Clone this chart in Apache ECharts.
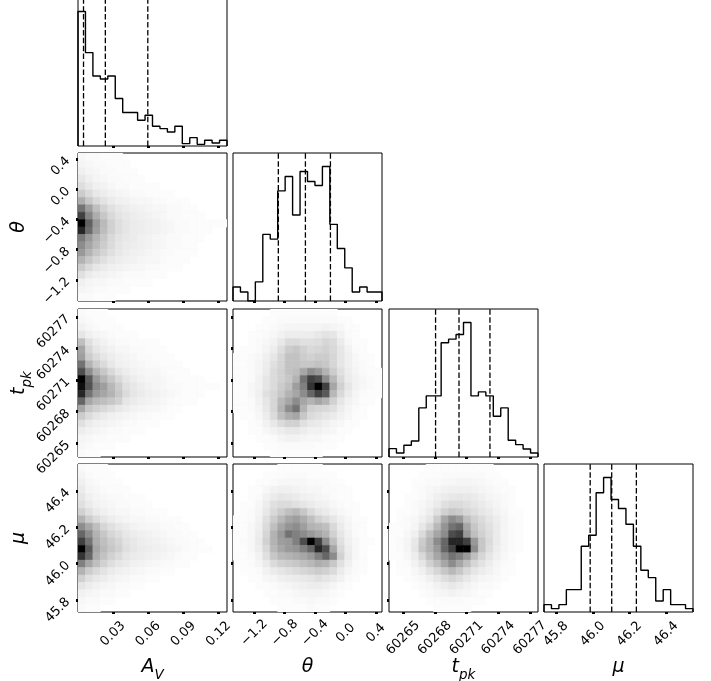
<!DOCTYPE html>
<html><head><meta charset="utf-8">
<script src="https://cdn.jsdelivr.net/npm/echarts@6/dist/echarts.min.js"></script>
<style>html,body{margin:0;padding:0;background:#fff}#c{width:711px;height:681px}</style>
</head><body><div id="c"></div>
<script>
// ---------- data ----------
const avRange = [0.0002, 0.1272];
const thetaRange = [-1.48, 0.479];
const tpkRange = [60263.66, 60277.77];
const muRange = [45.734, 46.547];

const avTicks = [0.03, 0.06, 0.09, 0.12];
const avTickLabels = ['0.03', '0.06', '0.09', '0.12'];
const thetaTicks = [-1.2, -0.8, -0.4, 0.0, 0.4];
const thetaTickLabels = ['\u22121.2', '\u22120.8', '\u22120.4', '0.0', '0.4'];
const tpkTicks = [60265, 60268, 60271, 60274, 60277];
const tpkTickLabels = ['60265', '60268', '60271', '60274', '60277'];
const muTicks = [45.8, 46.0, 46.2, 46.4];
const muTickLabels = ['45.8', '46.0', '46.2', '46.4'];

const avHist = [402, 279, 209, 200, 209, 142, 100, 100, 77, 92, 59, 52, 42, 59, 7, 25, 5, 17, 9, 17];
const thetaHist = [42, 27, 0, 57, 199, 185, 329, 372, 257, 387, 357, 345, 402, 229, 157, 99, 27, 42, 27, 27];
const tpkHist = [25, 12, 35, 48, 147, 183, 183, 342, 353, 367, 403, 183, 195, 183, 122, 147, 50, 37, 24, 12];
const muHist = [22, 10, 22, 67, 67, 197, 230, 357, 403, 337, 310, 263, 197, 125, 103, 33, 67, 22, 22, 10];

const avQuantiles = [0.0049, 0.0235, 0.0597];
const thetaQuantiles = [-0.884, -0.528, -0.199];
const tpkQuantiles = [60268.07, 60270.29, 60273.22];
const muQuantiles = [45.986, 46.1035, 46.238];

// 2D densities (percent of panel maximum); rows from top (high y) to bottom, columns left to right
const densAvTheta = [
 [3,2,2,1,1,1,0,0,0,0,0,0,0,0,0,0,0,0,0,0],
 [4,3,2,2,1,1,1,0,0,0,0,0,0,0,0,0,0,0,0,0],
 [6,4,3,2,2,1,1,1,0,0,0,0,0,0,0,0,0,0,0,0],
 [9,6,4,3,2,2,1,1,1,0,0,0,0,0,0,0,0,0,0,0],
 [13,9,6,5,3,2,2,1,1,1,1,0,0,0,0,0,0,0,0,0],
 [20,14,9,7,5,4,3,2,2,1,1,1,1,0,0,0,0,0,0,0],
 [32,22,15,11,8,6,5,4,3,3,2,2,1,1,1,0,0,0,0,0],
 [55,38,25,17,12,9,7,6,5,4,3,3,2,2,1,1,0,0,0,0],
 [75,48,32,22,15,11,9,7,6,5,4,3,2,2,1,1,1,0,0,0],
 [100,62,40,27,18,13,10,8,7,6,5,4,3,2,2,1,1,1,1,1],
 [85,58,38,26,18,13,10,8,7,6,5,4,3,2,2,1,1,1,0,0],
 [52,40,30,22,15,11,9,8,6,5,4,3,2,2,1,1,1,0,0,0],
 [45,35,27,20,14,10,8,7,6,5,4,3,2,2,1,1,0,0,0,0],
 [40,30,22,17,12,9,7,6,5,4,3,2,2,1,1,1,0,0,0,0],
 [30,22,16,12,9,7,6,5,4,3,3,2,1,1,1,0,0,0,0,0],
 [20,14,10,8,6,5,4,3,3,2,2,1,1,1,0,0,0,0,0,0],
 [12,8,6,5,4,3,2,2,2,1,1,1,0,0,0,0,0,0,0,0],
 [6,4,3,3,2,2,1,1,1,1,0,0,0,0,0,0,0,0,0,0],
 [4,3,2,2,1,1,1,0,0,0,0,0,0,0,0,0,0,0,0,0],
 [2,2,1,1,1,0,0,0,0,0,0,0,0,0,0,0,0,0,0,0]
];
const densAvTpk = [
 [2,1,1,1,0,0,0,0,0,0,0,0,0,0,0,0,0,0,0,0],
 [3,2,1,1,1,0,0,0,0,0,0,0,0,0,0,0,0,0,0,0],
 [5,3,2,1,1,1,0,0,0,0,0,0,0,0,0,0,0,0,0,0],
 [10,6,4,3,2,1,1,1,0,0,0,0,0,0,0,0,0,0,0,0],
 [25,12,7,5,3,2,2,1,1,1,1,0,0,0,0,0,0,0,0,0],
 [35,16,10,7,5,3,3,2,2,1,1,1,0,0,0,0,0,0,0,0],
 [38,20,14,10,7,5,4,3,2,2,1,1,1,0,0,0,0,0,0,0],
 [55,30,20,14,9,6,5,4,3,2,2,1,1,1,0,0,0,0,0,0],
 [70,45,30,22,15,10,7,5,4,3,3,2,1,1,1,0,0,0,0,0],
 [100,65,40,30,22,15,10,7,5,4,4,3,2,1,1,1,1,0,0,0],
 [95,68,45,38,28,20,12,9,7,5,4,3,2,2,1,1,1,1,1,0],
 [85,55,40,35,30,22,14,10,8,6,5,4,3,2,1,1,1,0,0,0],
 [60,35,28,25,22,18,10,8,6,5,4,3,2,1,1,1,0,0,0,0],
 [35,22,18,15,12,9,7,5,4,3,3,2,1,1,0,0,0,0,0,0],
 [20,14,10,8,6,5,4,3,2,2,1,1,1,0,0,0,0,0,0,0],
 [12,8,6,5,4,3,2,2,1,1,1,0,0,0,0,0,0,0,0,0],
 [7,5,4,3,2,2,1,1,1,0,0,0,0,0,0,0,0,0,0,0],
 [4,3,2,2,1,1,1,0,0,0,0,0,0,0,0,0,0,0,0,0],
 [3,2,1,1,1,0,0,0,0,0,0,0,0,0,0,0,0,0,0,0],
 [2,1,1,0,0,0,0,0,0,0,0,0,0,0,0,0,0,0,0,0]
];
const densAvMu = [
 [2,1,1,1,0,0,0,0,0,0,0,0,0,0,0,0,0,0,0,0],
 [4,2,1,1,1,0,0,0,0,0,0,0,0,0,0,0,0,0,0,0],
 [6,3,2,1,1,1,0,0,0,0,0,0,0,0,0,0,0,0,0,0],
 [8,4,3,2,1,1,1,0,0,0,0,0,0,0,0,0,0,0,0,0],
 [10,6,4,3,2,2,1,1,1,0,0,0,0,0,0,0,0,0,0,0],
 [12,8,5,4,3,2,2,1,1,1,0,0,0,0,0,0,0,0,0,0],
 [18,12,8,6,4,3,3,2,2,1,1,1,0,0,0,0,0,0,0,0],
 [30,20,14,10,7,5,4,3,3,2,2,1,1,1,0,0,0,0,0,0],
 [45,35,25,16,12,9,7,5,4,3,3,2,2,1,1,0,0,0,0,0],
 [60,45,30,22,16,13,9,7,6,5,4,3,2,2,1,1,0,0,0,0],
 [75,55,32,25,20,16,11,9,7,6,5,4,3,2,2,1,1,0,0,0],
 [100,65,35,27,22,18,12,10,8,7,6,5,4,3,2,1,1,1,0,0],
 [80,60,32,24,18,14,10,8,7,6,5,4,3,2,1,1,0,0,0,0],
 [50,35,25,18,13,10,8,6,5,4,3,2,2,1,1,0,0,0,0,0],
 [30,20,15,11,8,6,5,4,3,2,2,1,1,0,0,0,0,0,0,0],
 [18,12,9,7,5,4,3,2,2,1,1,0,0,0,0,0,0,0,0,0],
 [10,7,5,4,3,2,2,1,1,0,0,0,0,0,0,0,0,0,0,0],
 [5,4,3,2,2,1,1,0,0,0,0,0,0,0,0,0,0,0,0,0],
 [3,2,2,1,1,0,0,0,0,0,0,0,0,0,0,0,0,0,0,0],
 [2,1,1,0,0,0,0,0,0,0,0,0,0,0,0,0,0,0,0,0]
];
const densThetaTpk = [
 [0,0,0,0,0,1,1,1,1,1,1,1,1,1,0,0,0,0,0,0],
 [0,0,0,0,1,1,2,2,2,2,2,2,2,2,1,1,0,0,0,0],
 [0,0,0,1,1,2,3,4,4,4,4,4,5,4,3,1,1,0,0,0],
 [0,0,1,1,2,3,5,7,7,7,7,9,11,10,5,2,1,0,0,0],
 [0,0,1,2,3,5,9,14,14,12,12,13,16,14,8,3,1,1,0,0],
 [0,1,1,2,4,7,13,20,22,18,15,16,18,15,10,5,2,1,0,0],
 [1,1,2,3,6,10,16,24,24,20,18,20,20,16,10,6,3,1,1,0],
 [1,1,2,4,7,12,17,24,24,22,22,24,22,16,10,6,3,2,1,0],
 [1,1,2,4,8,14,18,24,26,35,45,40,30,20,12,7,4,2,1,1],
 [1,1,2,5,10,14,18,22,30,55,75,70,45,28,15,8,5,3,2,1],
 [1,1,3,5,10,14,20,25,38,50,80,100,75,35,18,10,5,3,2,1],
 [1,1,3,6,12,16,22,30,35,45,60,75,65,28,15,8,4,2,1,1],
 [1,1,2,5,10,16,28,35,45,35,30,35,30,18,10,5,3,1,1,0],
 [1,1,2,4,9,16,30,45,55,30,18,16,15,12,7,4,2,1,0,0],
 [0,1,1,3,7,14,25,32,35,22,14,12,10,8,5,3,1,1,0,0],
 [0,0,1,2,5,9,14,18,18,12,9,8,6,4,3,1,1,0,0,0],
 [0,0,1,1,3,5,7,9,9,7,5,5,4,3,1,1,0,0,0,0],
 [0,0,0,1,1,2,4,5,5,4,3,3,2,1,1,0,0,0,0,0],
 [0,0,0,0,1,1,2,2,2,2,2,1,1,1,0,0,0,0,0,0],
 [0,0,0,0,0,1,1,1,1,1,1,1,0,0,0,0,0,0,0,0]
];
const densThetaMu = [
 [0,0,0,0,0,0,1,1,1,1,1,1,0,0,0,0,0,0,0,0],
 [0,0,0,0,1,1,1,2,2,2,1,1,1,1,0,0,0,0,0,0],
 [0,0,0,1,1,2,3,3,3,3,2,2,2,1,1,0,0,0,0,0],
 [0,0,1,1,3,5,6,6,5,4,3,3,2,2,1,1,0,0,0,0],
 [0,0,1,2,5,8,10,9,8,6,5,4,3,2,1,1,0,0,0,0],
 [0,1,1,3,7,12,14,14,12,10,8,6,5,3,2,1,1,0,0,0],
 [0,1,2,4,9,15,20,25,28,22,15,10,8,5,3,2,1,0,0,0],
 [1,1,2,5,12,20,28,35,38,32,25,18,14,10,6,3,1,1,0,0],
 [1,1,3,6,14,25,35,42,45,38,30,28,25,15,8,4,2,1,0,0],
 [1,1,3,7,16,30,40,55,50,45,40,35,30,18,10,5,2,1,0,0],
 [1,2,3,8,18,30,38,40,50,70,100,75,45,25,12,6,3,1,1,0],
 [1,1,3,7,15,28,35,40,42,50,60,85,70,35,15,7,3,1,0,0],
 [1,1,2,5,12,22,28,30,32,35,40,50,60,45,18,8,3,1,0,0],
 [0,1,2,4,8,14,18,20,22,25,28,32,30,22,12,6,2,1,0,0],
 [0,1,1,2,5,8,10,12,14,16,18,20,18,14,8,4,2,1,0,0],
 [0,0,1,1,3,4,6,7,8,9,10,12,10,8,5,2,1,0,0,0],
 [0,0,0,1,1,2,3,4,5,6,7,7,6,4,2,1,0,0,0,0],
 [0,0,0,0,1,1,2,2,3,4,4,4,3,2,1,0,0,0,0,0],
 [0,0,0,0,0,1,1,1,2,2,3,2,2,1,0,0,0,0,0,0],
 [0,0,0,0,0,0,1,1,1,1,2,1,1,0,0,0,0,0,0,0]
];
const densTpkMu = [
 [0,0,0,0,0,1,1,1,1,1,1,1,1,1,0,0,0,0,0,0],
 [0,0,0,0,1,1,1,2,2,2,2,2,2,1,1,0,0,0,0,0],
 [0,0,0,1,1,2,2,3,3,4,4,3,3,2,1,1,0,0,0,0],
 [0,0,0,1,2,3,4,5,6,6,6,5,4,3,2,1,1,0,0,0],
 [0,0,1,1,2,4,6,8,9,10,9,8,6,4,3,2,1,0,0,0],
 [0,0,1,2,3,5,8,12,14,14,12,10,8,6,4,2,1,0,0,0],
 [0,1,1,2,4,7,12,18,22,20,16,13,10,8,5,3,1,1,0,0],
 [0,1,2,3,6,10,20,35,45,40,25,18,14,10,7,4,2,1,0,0],
 [1,1,2,4,9,16,28,42,55,60,35,22,16,12,8,4,2,1,0,0],
 [1,1,3,6,14,25,35,45,70,75,40,25,18,13,8,4,2,1,0,0],
 [1,2,4,9,20,30,45,60,85,85,75,40,22,14,8,4,2,1,0,0],
 [1,2,4,10,22,30,40,60,75,100,100,45,22,13,7,4,2,1,0,0],
 [1,1,3,7,15,25,35,45,55,50,40,25,16,10,6,3,1,0,0,0],
 [0,1,2,5,10,18,25,35,45,35,25,16,11,7,4,2,1,0,0,0],
 [0,1,1,3,6,11,16,22,28,22,15,10,7,5,3,1,1,0,0,0],
 [0,0,1,2,3,6,9,13,16,13,9,6,4,3,2,1,0,0,0,0],
 [0,0,0,1,2,3,5,7,9,7,5,3,2,2,1,0,0,0,0,0],
 [0,0,0,0,1,2,3,4,5,4,3,2,1,1,0,0,0,0,0,0],
 [0,0,0,0,0,1,1,2,2,2,1,1,1,0,0,0,0,0,0,0],
 [0,0,0,0,0,0,1,1,1,1,1,0,0,0,0,0,0,0,0,0]
];

// ---------- chart ----------
const FONT = 'DejaVu Sans';
const TICK_FS = 13;
const params = [
  { range: avRange, ticks: avTicks, labels: avTickLabels, hist: avHist, q: avQuantiles, xMargin: 22, name: '{i|A}{s|V}' },
  { range: thetaRange, ticks: thetaTicks, labels: thetaTickLabels, hist: thetaHist, q: thetaQuantiles, xMargin: 21, name: '{i|\u03b8}' },
  { range: tpkRange, ticks: tpkTicks, labels: tpkTickLabels, hist: tpkHist, q: tpkQuantiles, xMargin: 26, name: '{i|t}{s|pk}' },
  { range: muRange, ticks: muTicks, labels: muTickLabels, hist: muHist, q: muQuantiles, xMargin: 22, name: '{i|\u03bc}' }
];
const dens = {
  '1,0': densAvTheta, '2,0': densAvTpk, '3,0': densAvMu,
  '2,1': densThetaTpk, '3,1': densThetaMu, '3,2': densTpkMu
};
const rich = {
  i: { fontFamily: FONT, fontStyle: 'italic', fontSize: 19, lineHeight: 30, color: '#000' },
  s: { fontFamily: FONT, fontStyle: 'italic', fontSize: 13.5, lineHeight: 20, verticalAlign: 'bottom', color: '#000' }
};
const lefts = [78, 233, 389, 544], tops = [-2, 153, 309, 464], W = 149, H = 148;

function fmt(p) {
  return v => {
    const k = p.ticks.findIndex(t => Math.abs(t - v) < 1e-6 * Math.max(1, Math.abs(t)));
    return k >= 0 ? p.labels[k] : '';
  };
}
const tickStyle = { color: '#000', width: 3 };

const grids = [], xAxes = [], yAxes = [], series = [];
for (let i = 0; i < 4; i++) {
  for (let j = 0; j <= i; j++) {
    const g = grids.length;
    grids.push({ left: lefts[j], top: tops[i], width: W, height: H, show: true,
      borderColor: '#000', borderWidth: 1, backgroundColor: 'transparent', outerBoundsMode: 'none' });
    const px = params[j];
    xAxes.push({
      gridIndex: g, type: 'value', min: px.range[0], max: px.range[1],
      axisLine: { show: false, onZero: false }, splitLine: { show: false },
      axisTick: { show: true, customValues: px.ticks, length: 2, lineStyle: tickStyle },
      axisLabel: { show: i === 3, customValues: px.ticks, rotate: 45, align: 'center', verticalAlign: 'middle',
        margin: px.xMargin, fontSize: TICK_FS, fontFamily: FONT, color: '#000', formatter: fmt(px) },
      name: i === 3 ? px.name : '', nameLocation: 'middle', nameGap: 40, nameMoveOverlap: false,
      nameTextStyle: { rich: rich }
    });
    if (i === j) {
      const h = px.hist, n = h.length, r0 = px.range[0], r1 = px.range[1];
      const e = k => r0 + k * (r1 - r0) / n;
      const pts = [[e(0), 0]];
      h.forEach((c, k) => pts.push([e(k), c]));
      pts.push([e(n), h[n - 1]], [e(n), 0]);
      const ymax = 1.1 * Math.max(...h);
      yAxes.push({ gridIndex: g, type: 'value', min: 0, max: ymax, show: false });
      series.push({
        type: 'line', xAxisIndex: g, yAxisIndex: g, step: 'end', data: pts,
        symbol: 'none', showSymbol: false, silent: true, animation: false, z: 3,
        lineStyle: { color: '#000', width: 1.4 }
      });
      px.q.forEach(qv => series.push({
        type: 'line', xAxisIndex: g, yAxisIndex: g, data: [[qv, 0], [qv, ymax]],
        symbol: 'none', showSymbol: false, silent: true, animation: false, z: 2,
        lineStyle: { color: '#000', width: 1.3, type: [5.5, 2.4] }
      }));
    } else {
      const py = params[i];
      yAxes.push({
        gridIndex: g, type: 'value', min: py.range[0], max: py.range[1],
        axisLine: { show: false, onZero: false }, splitLine: { show: false },
        axisTick: { show: true, customValues: py.ticks, length: 2, lineStyle: tickStyle },
        axisLabel: { show: j === 0, customValues: py.ticks, rotate: 45, align: 'right', verticalAlign: 'middle',
          margin: 10, fontSize: TICK_FS, fontFamily: FONT, color: '#000', formatter: fmt(py) },
        name: j === 0 ? py.name : '', nameLocation: 'middle', nameGap: 44, nameMoveOverlap: false,
        nameTextStyle: { rich: rich }
      });
      const grid2 = dens[i + ',' + j];
      const nr = grid2.length, nc = grid2[0].length;
      const dx = (px.range[1] - px.range[0]) / nc, dy = (py.range[1] - py.range[0]) / nr;
      const data = [];
      grid2.forEach((row, r) => row.forEach((v, c) => {
        if (v <= 0) return;
        const yb = nr - 1 - r;
        data.push([px.range[0] + c * dx, px.range[0] + (c + 1) * dx,
                   py.range[0] + yb * dy, py.range[0] + (yb + 1) * dy, v]);
      }));
      series.push({
        type: 'custom', xAxisIndex: g, yAxisIndex: g, data: data, silent: true, animation: false, clip: true,
        encode: { x: [0, 1], y: [2, 3] },
        renderItem: (params, api) => {
          const p0 = api.coord([api.value(0), api.value(3)]);
          const p1 = api.coord([api.value(1), api.value(2)]);
          const v = api.value(4);
          const gl = Math.round(255 * (1 - v / 100));
          const col = 'rgb(' + gl + ',' + gl + ',' + gl + ')';
          return { type: 'rect', shape: { x: p0[0], y: p0[1], width: p1[0] - p0[0], height: p1[1] - p0[1] },
                   style: { fill: col, stroke: col, lineWidth: 0.6 } };
        }
      });
    }
  }
}

const chart = echarts.init(document.getElementById('c'));
chart.setOption({
  animation: false,
  backgroundColor: '#fff',
  grid: grids, xAxis: xAxes, yAxis: yAxes, series: series
});
</script>
</body></html>
